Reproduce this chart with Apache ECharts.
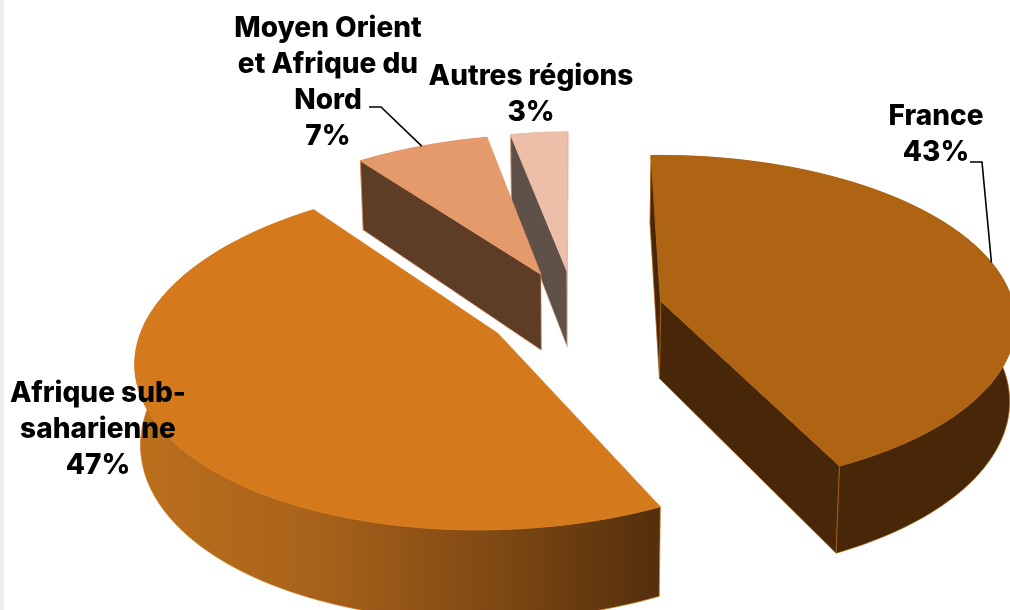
<!DOCTYPE html>
<html><head><meta charset="utf-8">
<style>html,body{margin:0;padding:0;background:#fff}#c{width:1010px;height:610px}</style>
<script src="https://cdn.jsdelivr.net/npm/echarts@6/dist/echarts.min.js"></script>
</head><body><div id="c"></div>
<script>
// Data
const categories = ['France', 'Afrique sub-\nsaharienne', 'Moyen Orient\net Afrique du\nNord', 'Autres régions'];
const shares = [43, 47, 7, 3];

// Styles
const topColors = ['#AF6414', '#D47A1C', '#E59A6B', '#EDBEA8'];
const wallColors = ['#472707', null, '#5E3D27', '#5F5048'];
const labelCentres = [[936, 135], [98, 430], [328, 83], [531, 95]];
const leaderStarts = [[[970, 162], [982, 162]], null, [[369, 107], [381, 107]], null];

// Pie geometry: a perspective projection of a flat disc
const G = { cx: 575, cy: 311, rx: 353, ry: 166, persp: 0.125, explode: 0.25, depth: 78, shrink: 0.987, tilt: 4 };
const total = shares.reduce((a, b) => a + b, 0);

function project(U, V, low) {
  const s = 1 / (1 - G.persp * V);
  return [G.cx + G.rx * U * s * (low ? G.shrink : 1), G.cy + (G.ry * V - G.tilt * U + (low ? G.depth : 0)) * s];
}
function pieGeom(i) {
  const before = shares.slice(0, i).reduce((a, b) => a + b, 0);
  const a0 = before / total * 2 * Math.PI, a1 = (before + shares[i]) / total * 2 * Math.PI;
  const mid = (a0 + a1) / 2;
  const ox = G.explode * Math.sin(mid), oy = -G.explode * Math.cos(mid);
  const steps = Math.max(8, Math.round((a1 - a0) * 40));
  const rim = [];
  for (let k = 0; k <= steps; k++) {
    const a = a0 + (a1 - a0) * k / steps;
    rim.push([ox + Math.sin(a), oy - Math.cos(a)]);
  }
  return { ox, oy, rim, mid };
}
function renderItem(params, api) {
  const i = api.value(0);
  const g = pieGeom(i);
  const up = p => project(p[0], p[1], false), lo = p => project(p[0], p[1], true);
  const apex = [g.ox, g.oy];
  const wall = wallColors[i] || new echarts.graphic.LinearGradient(133, 0, 655, 0, [
    { offset: 0, color: '#BC701D' }, { offset: 0.35, color: '#A8621A' },
    { offset: 0.7, color: '#7E4813' }, { offset: 1, color: '#55300C' }], true);
  const edge = topColors[i];
  const poly = (pts, fill, sw, z) => ({ type: 'polygon', z2: z, shape: { points: pts },
    style: { fill, stroke: sw, lineWidth: 0.7 } });
  const first = g.rim[0], last = g.rim[g.rim.length - 1];
  const kids = [];
  // a cut face shows only where the extrusion falls outside the top face
  if (up(apex)[0] < up(last)[0]) kids.push(poly([up(apex), up(last), lo(last), lo(apex)], wall, edge, 1));
  kids.push(poly(g.rim.map(up).concat(g.rim.slice().reverse().map(lo)), wall, edge, 2));
  if (up(first)[0] < up(apex)[0]) kids.push(poly([up(apex), up(first), lo(first), lo(apex)], wall, edge, 3));
  kids.push(poly([up(apex)].concat(g.rim.map(up)), topColors[i], topColors[i], 4));
  const c = labelCentres[i];
  kids.push({ type: 'text', z2: 50, style: { x: c[0], y: c[1], text: categories[i] + '\n' + shares[i] + '%',
    align: 'center', verticalAlign: 'middle', fontFamily: 'Inter', fontWeight: 800, fontSize: 28,
    lineHeight: 36, fill: '#000' } });
  if (leaderStarts[i]) {
    const tip = up([g.ox + Math.sin(g.mid), g.oy - Math.cos(g.mid)]);
    kids.push({ type: 'polyline', z2: 50, shape: { points: leaderStarts[i].concat([tip]) },
      style: { fill: null, stroke: '#000', lineWidth: 1.6 } });
  }
  return { type: 'group', children: kids };
}
const chart = echarts.init(document.getElementById('c'), null, { renderer: 'canvas' });
chart.setOption({
  backgroundColor: '#fff',
  animation: false,
  graphic: [{ type: 'rect', shape: { x: 0, y: 0, width: 4, height: 610 }, style: { fill: '#EEEEEE' } }],
  series: [{
    type: 'custom', coordinateSystem: 'none', silent: true, clip: false,
    renderItem,
    // back-to-front painting order
    data: shares.map((v, i) => [i, v]).reverse()
  }]
});
</script></body></html>
